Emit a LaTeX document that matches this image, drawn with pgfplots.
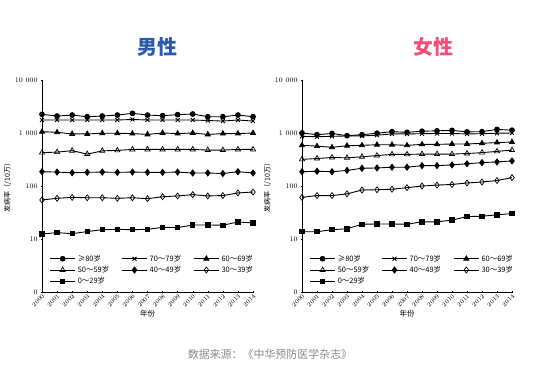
\documentclass[border=0pt]{standalone}
\usepackage{pgfplots}
\usepackage{pgfplotstable}
\pgfplotsset{compat=1.18}
\usepackage{fontspec}
\newfontfamily\cjk{Noto Sans CJK SC}
\definecolor{maleblue}{HTML}{2B5BA8}
\definecolor{femalepink}{HTML}{F0507A}
\definecolor{srcgray}{HTML}{8A8A8A}

\pgfplotstableread{
year a80 a70 a60 a50 a40 a30 a0
2000 2250 1760 1060 426 186 54.5 12.4
2001 2090 1760 1030 436 183 58.6 13.2
2002 2180 1760 960 464 178 61 12.6
2003 2030 1760 960 400 181 60 13.8
2004 2090 1760 990 460 183 60 15.0
2005 2180 1760 990 470 181 58.6 15.2
2006 2350 1800 975 490 183 60 15.0
2007 2180 1760 940 490 181 57.7 15.2
2008 2120 1760 1000 490 181 62.7 16.6
2009 2220 1760 975 490 183 64.9 16.4
2010 2280 1760 1000 490 176 68.7 18.4
2011 2030 1720 940 476 176 65 18.4
2012 2030 1680 975 476 172 66 18.2
2013 2180 1760 975 490 186 74 20.9
2014 2030 1680 1000 490 176 77 20.2
}\maletab

\pgfplotstableread{
year a80 a70 a60 a50 a40 a30 a0
2000 1000 865 585 318 186 61 13.7
2001 930 850 565 330 190 66 13.7
2002 980 865 537 345 186 66 15.0
2003 890 880 575 340 197 71 15.6
2004 930 880 585 356 216 84 19.0
2005 990 910 600 375 219 85 19.2
2006 1060 960 600 395 226 87 19.2
2007 1030 960 585 395 226 93 19.0
2008 1080 970 610 400 242 100 21.1
2009 1100 980 610 400 242 104 21.1
2010 1120 980 620 400 250 107 22.7
2011 1050 960 620 410 263 114 26.5
2012 1060 970 640 426 276 119 26.9
2013 1170 990 660 450 285 127 28.6
2014 1130 1000 675 476 297 144 30.2
}\femaletab

\pgfplotsset{
  every axis/.append style={
    scale only axis,
    height=212bp,
    ymin=1, ymax=10000,
    xmin=2000, xmax=2014,
    axis lines=left,
    axis line style={-, line width=0.5pt},
    ytick={1,10,100,1000,10000},
    yticklabels={0,10,100,1 000,10 000},
    yminorticks=false,
    xtick={2000,...,2014},
    xticklabel style={rotate=45, anchor=north east, inner sep=0.5pt, font=\fontsize{6}{7}\selectfont},
    yticklabel style={font=\fontsize{7}{8}\selectfont},
    /pgf/number format/1000 sep={},
    /pgf/number format/assume math mode=true,
    tick style={black, line width=0.4pt},
    major tick length=2pt,
    xlabel={\cjk 年份},
    ylabel={\cjk 发病率（/10万）},
    xlabel style={font=\fontsize{7.5}{8}\selectfont, yshift=1pt},
    ylabel style={font=\fontsize{7}{8}\selectfont, yshift=-3pt},
    clip=false,
    legend columns=3,
    legend style={draw=none, fill=none, at={(0.02,0.195)}, anchor=north west,
      font=\cjk\fontsize{7.5}{8}\selectfont, row sep=-0.5pt,
      /tikz/every even column/.append style={column sep=10pt}},
    legend cell align=left,
    legend image code/.code={%
      \draw[mark repeat=2,mark phase=2] plot coordinates {(0cm,0cm) (0.45cm,0cm) (0.9cm,0cm)};},
  },
  every axis plot/.append style={black, line width=0.9pt, mark size=2.4pt},
}

\begin{document}
\begin{tikzpicture}
\path[use as bounding box] (0,0) rectangle (540bp,379bp);
\node[font=\cjk\bfseries\fontsize{20}{22}\selectfont, text=maleblue] at (157bp,332bp) {男性};
\node[font=\cjk\bfseries\fontsize{20}{22}\selectfont, text=femalepink] at (433bp,332bp) {女性};
\node[font=\cjk\fontsize{11}{12}\selectfont, text=srcgray] at (270bp,25bp) {数据来源：《中华预防医学杂志》};

\begin{axis}[ymode=log, width=211bp, at={(42bp,87bp)}, anchor=origin]
\addplot[mark=*] table[x=year,y=a80] {\maletab};
\addplot[mark=x, mark size=2.8pt] table[x=year,y=a70] {\maletab};
\addplot[mark=triangle*, mark size=2.8pt] table[x=year,y=a60] {\maletab};
\addplot[mark=triangle, mark size=3pt, mark options={fill=white, line width=0.7pt}] table[x=year,y=a50] {\maletab};
\addplot[mark=diamond*, mark size=3pt] table[x=year,y=a40] {\maletab};
\addplot[mark=diamond, mark size=3pt, mark options={fill=white, line width=0.7pt}] table[x=year,y=a30] {\maletab};
\addplot[mark=square*, mark size=2.2pt] table[x=year,y=a0] {\maletab};
\legend{≥80岁,70～79岁,60～69岁,50～59岁,40～49岁,30～39岁,0～29岁}
\end{axis}

\begin{axis}[ymode=log, width=210bp, at={(302bp,87bp)}, anchor=origin]
\addplot[mark=*] table[x=year,y=a80] {\femaletab};
\addplot[mark=x, mark size=2.8pt] table[x=year,y=a70] {\femaletab};
\addplot[mark=triangle*, mark size=2.8pt] table[x=year,y=a60] {\femaletab};
\addplot[mark=triangle, mark size=3pt, mark options={fill=white, line width=0.7pt}] table[x=year,y=a50] {\femaletab};
\addplot[mark=diamond*, mark size=3pt] table[x=year,y=a40] {\femaletab};
\addplot[mark=diamond, mark size=3pt, mark options={fill=white, line width=0.7pt}] table[x=year,y=a30] {\femaletab};
\addplot[mark=square*, mark size=2.2pt] table[x=year,y=a0] {\femaletab};
\legend{≥80岁,70～79岁,60～69岁,50～59岁,40～49岁,30～39岁,0～29岁}
\end{axis}
\end{tikzpicture}
\end{document}
